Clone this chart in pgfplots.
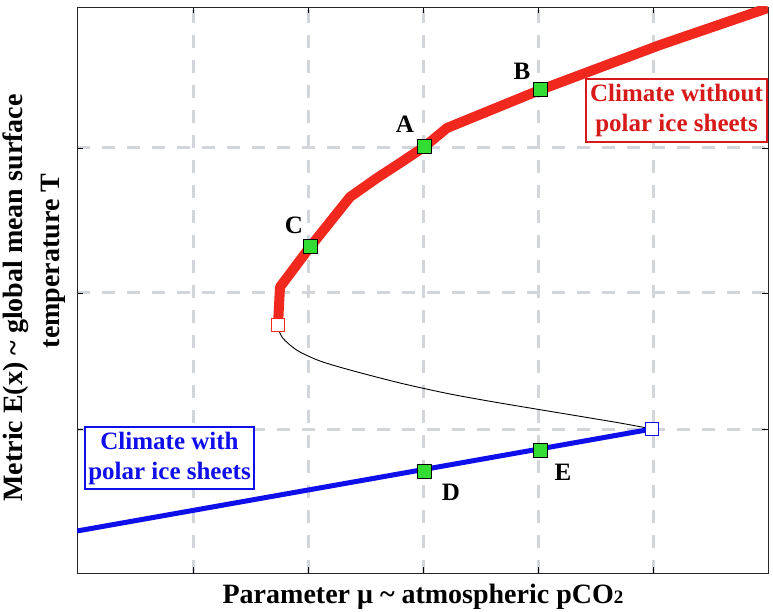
\documentclass[border=0pt]{standalone}
\usepackage{pgfplots}
\pgfplotsset{compat=1.18}
\usepackage{fontspec}
\setmainfont{Liberation Serif}

\definecolor{curvered}{RGB}{240,40,30}
\definecolor{textred}{RGB}{215,25,25}
\definecolor{curveblue}{RGB}{15,15,235}
\definecolor{markgreen}{RGB}{50,220,50}
\definecolor{gridgray}{RGB}{210,214,218}

\begin{document}
\begin{tikzpicture}
\begin{axis}[
  width=691pt, height=566pt, scale only axis,
  xmin=0, xmax=691, ymin=0, ymax=566,
  xtick={116,231,346,461,576}, ytick={144,280,425},
  xticklabels={}, yticklabels={},
  tick align=inside, major tick length=6pt,
  grid=major,
  major grid style={gridgray, line width=3pt, dash pattern=on 13pt off 12pt},
  axis line style={black!85, line width=0.8pt},
  tick style={black, line width=0.8pt},
]
% warm branch (no polar ice)
\addplot[curvered, line width=10pt, line join=round] coordinates {
  (201,248) (203,286) (233,326) (253,351) (273,376) (300,395) (323,410)
  (347,426) (370,445) (463,483) (583,528) (691,565)};
% unstable branch
\addplot[black, line width=0.9pt, smooth] coordinates {
  (201,245) (205,236) (213,228) (223,221) (243,212) (273,203)
  (323,190) (373,179) (423,170) (483,160) (543,150) (575,144)};
% cold branch (polar ice)
\addplot[curveblue, line width=5pt] coordinates {(0,42) (575,144)};
% states A-E
\addplot[only marks, mark=square*, mark size=7pt,
  mark options={fill=markgreen, draw=black, line width=1pt}] coordinates {
  (347,426) (463,483) (233,326) (347,102) (463,123)};
% tipping points
\addplot[only marks, mark=square*, mark size=6.8pt,
  mark options={fill=white, draw=curvered, line width=1.2pt}] coordinates {(201,248)};
\addplot[only marks, mark=square*, mark size=6.5pt,
  mark options={fill=white, draw=curveblue, line width=1.2pt}] coordinates {(575,144)};
\end{axis}

\begin{scope}[every node/.style={font=\fontsize{25}{30}\selectfont\bfseries}]
  \node[anchor=base] at (328pt,440pt) {A};
  \node[anchor=base] at (445pt,493pt) {B};
  \node[anchor=base] at (217pt,339pt) {C};
  \node[anchor=base] at (374pt,73pt) {D};
  \node[anchor=base] at (486pt,93pt) {E};
  \node[draw=textred, text=textred, fill=white, line width=1.2pt, align=center,
    minimum width=181pt, minimum height=63pt, inner sep=0pt,
    font=\fontsize{25}{30}\selectfont\bfseries] at (599.5pt,462.5pt)
    {Climate without\\polar ice sheets};
  \node[draw=curveblue, text=curveblue, fill=white, line width=1.2pt, align=center,
    minimum width=169pt, minimum height=62pt, inner sep=0pt,
    font=\fontsize{25}{30}\selectfont\bfseries] at (92.5pt,115pt)
    {Climate with\\polar ice sheets};
\end{scope}

\begin{scope}[every node/.style={font=\fontsize{28}{32}\selectfont\bfseries}]
  \node[anchor=base] at (346pt,-30pt)
    {Parameter μ \textasciitilde\ atmospheric pCO{\fontsize{19}{19}\selectfont 2}};
  \node[anchor=base, rotate=90] at (-54pt,275pt)
    {Metric E(x) \textasciitilde\ global mean surface};
  \node[anchor=base, rotate=90] at (-17pt,312pt) {temperature T};
\end{scope}

\pgfresetboundingbox
\useasboundingbox (-77pt,-38pt) rectangle (696pt,573pt);
\end{tikzpicture}
\end{document}
